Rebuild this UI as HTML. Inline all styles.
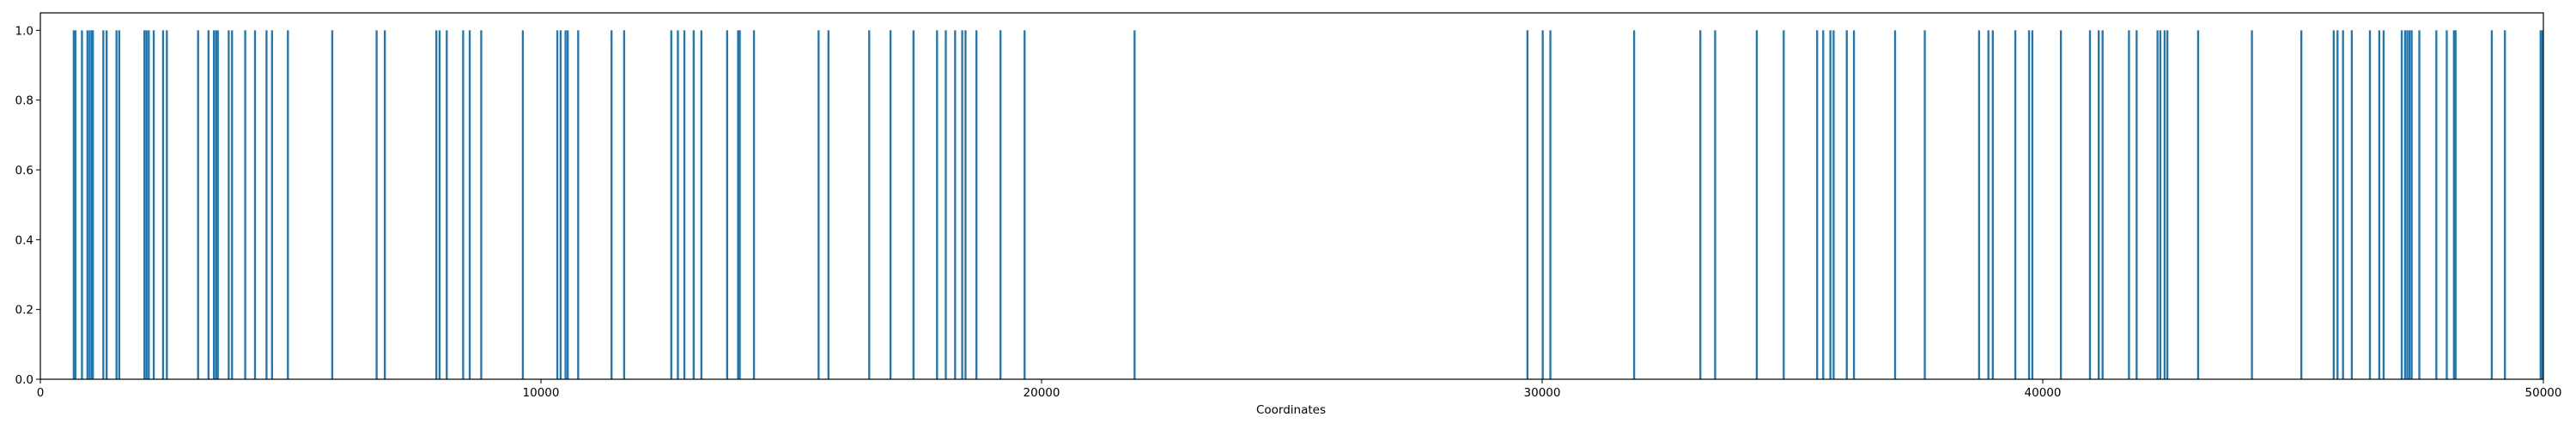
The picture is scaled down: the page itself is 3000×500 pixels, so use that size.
<!DOCTYPE html>
<html><head><meta charset="utf-8"><style>
html,body{margin:0;padding:0;background:#fff;}
svg{display:block;font-family:"DejaVu Sans","Liberation Sans",sans-serif;}
</style></head><body>
<svg id="chart" width="3000" height="500" xmlns="http://www.w3.org/2000/svg">
<g id="bars"></g>
<g id="axes"></g>
</svg>
<script>
const positions = [667,700,831,941,985,1028,1050,1258,1324,1521,1575,2079,2122,2166,2265,2451,2527,3151,3359,3468,3512,3545,3763,3829,4092,4288,4518,4628,4945,5831,6717,6881,7910,7975,8118,8446,8577,8807,9638,10327,10393,10491,10535,10743,11410,11662,12603,12735,12865,13051,13205,13719,13938,13971,14255,15546,15743,
16557,16983,17442,17912,18087,18273,18415,18481,18699,19180,19661,21858,29706,30011,30164,31837,33160,33455,
34287,34825,35493,35614,35757,35822,36085,36228,37050,37643,38728,38914,39002,39452,39726,39792,40362,40943,41118,41195,41722,41875,42292,42347,42434,42489,43103,44178,45165,45812,45888,45998,46173,46535,46722,46809,47171,47237,47281,47325,47369,47522,47862,48070,48213,48246,48969,49232,49945,49978];
const heights = positions.map(() => 1);
const xTicks = [0,10000,20000,30000,40000,50000];
const yTicks = [0.0,0.2,0.4,0.6,0.8,1.0];
const barWidth = 40;

const NS = "http://www.w3.org/2000/svg";
const L = 47, R = 2962, T = 15, B = 442;
const xMax = 50000, yMax = 1.05;
const xs = v => L + (v / xMax) * (R - L);
const ys = v => B - (v / yMax) * (B - T);

const barsG = document.getElementById('bars');
positions.forEach((p, i) => {
  const r = document.createElementNS(NS, 'rect');
  const x0 = xs(p - barWidth / 2), x1 = xs(p + barWidth / 2);
  r.setAttribute('x', x0);
  r.setAttribute('y', ys(heights[i]));
  r.setAttribute('width', Math.max(1.6, x1 - x0));
  r.setAttribute('height', ys(0) - ys(heights[i]));
  r.setAttribute('fill', '#1f77b4');
  
  
  barsG.appendChild(r);
});

const ax = document.getElementById('axes');
const frame = document.createElementNS(NS, 'rect');
frame.setAttribute('x', L); frame.setAttribute('y', T);
frame.setAttribute('width', R - L); frame.setAttribute('height', B - T);
frame.setAttribute('fill', 'none'); frame.setAttribute('stroke', '#000'); frame.setAttribute('stroke-width', '1.2');


ax.appendChild(frame);

xTicks.forEach(v => {
  const x = xs(v);
  const t = document.createElementNS(NS, 'line');
  t.setAttribute('x1', x); t.setAttribute('x2', x); t.setAttribute('y1', B); t.setAttribute('y2', B + 5);
  t.setAttribute('stroke', '#000');
  
  
  ax.appendChild(t);
  const tx = document.createElementNS(NS, 'text');
  tx.setAttribute('x', x); tx.setAttribute('y', 462);
  tx.setAttribute('text-anchor', 'middle'); tx.setAttribute('font-size', '13.5');
  tx.textContent = String(v);
  
  
  ax.appendChild(tx);
});
yTicks.forEach(v => {
  const y = ys(v);
  const t = document.createElementNS(NS, 'line');
  t.setAttribute('x1', L - 5); t.setAttribute('x2', L); t.setAttribute('y1', y); t.setAttribute('y2', y);
  t.setAttribute('stroke', '#000');
  
  
  ax.appendChild(t);
  const tx = document.createElementNS(NS, 'text');
  tx.setAttribute('x', L - 8); tx.setAttribute('y', y + 5);
  tx.setAttribute('text-anchor', 'end'); tx.setAttribute('font-size', '13.5');
  tx.textContent = v.toFixed(1);
  
  
  ax.appendChild(tx);
});
const xl = document.createElementNS(NS, 'text');
xl.setAttribute('x', (L + R) / 2 - 1); xl.setAttribute('y', 482);
xl.setAttribute('text-anchor', 'middle'); xl.setAttribute('font-size', '13.5');
xl.textContent = 'Coordinates';


ax.appendChild(xl);
</script>
</body></html>
